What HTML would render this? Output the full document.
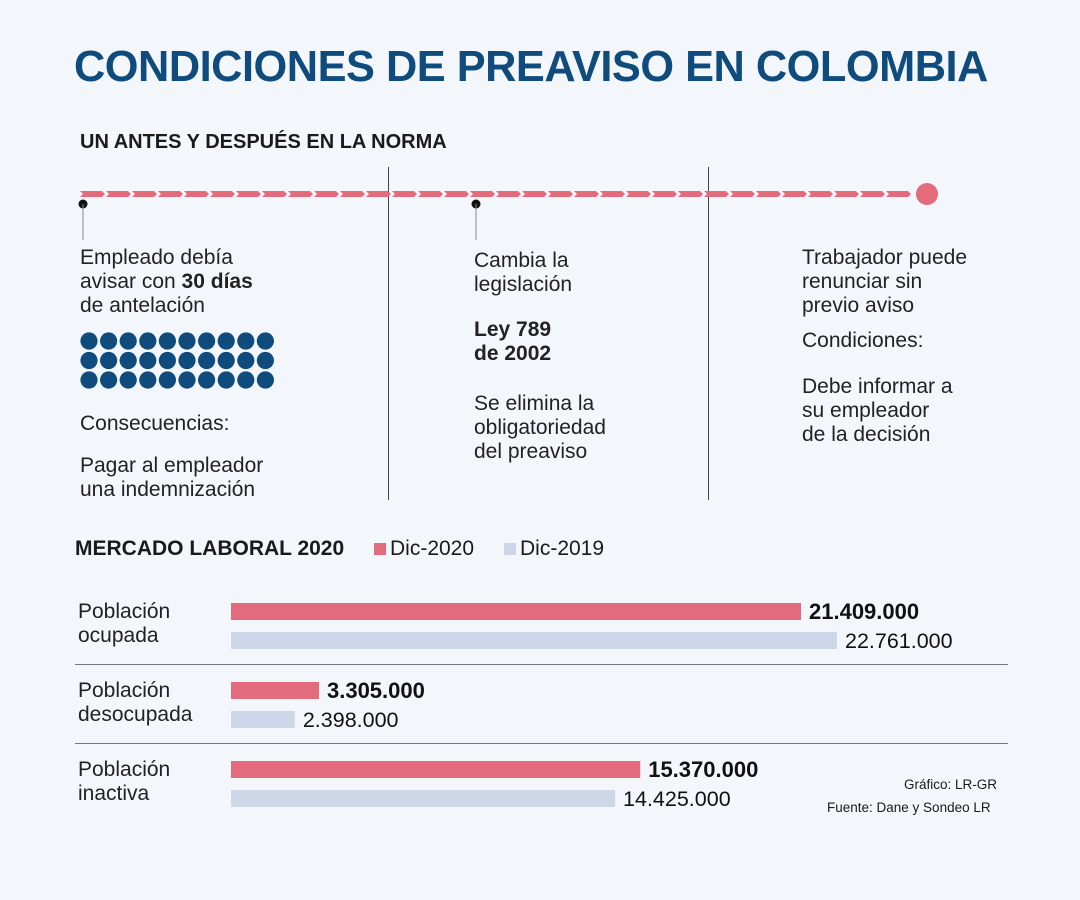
<!DOCTYPE html>
<html><head><meta charset="utf-8"><style>
html,body{margin:0;padding:0}
body{width:1080px;height:900px;background:#f3f6fb;position:relative;overflow:hidden;font-family:"Liberation Sans",sans-serif;color:#1a1a1a}
.t{position:absolute;white-space:nowrap}
.p{font-size:21px;line-height:24px;font-weight:300;color:#222}
b{font-weight:700}
</style></head><body>
<div class="t" style="left:74px;top:42px;font-size:44px;font-weight:700;color:#0f4c7d;letter-spacing:-0.5px;transform:scaleX(0.985);transform-origin:left">CONDICIONES DE PREAVISO EN COLOMBIA</div>
<div class="t" style="left:80px;top:131px;font-size:20px;font-weight:700">UN ANTES Y DESPUÉS EN LA NORMA</div>
<svg id="tl" width="1080" height="520" style="position:absolute;left:0;top:0">
<line x1="388.5" y1="167" x2="388.5" y2="500" stroke="#444" stroke-width="1"/>
<line x1="708.5" y1="167" x2="708.5" y2="500" stroke="#444" stroke-width="1"/>
<g id="chev"></g>
<circle cx="927" cy="194" r="11" fill="#e46b7b"/>
<circle cx="83" cy="204" r="4.5" fill="#111"/><line x1="83" y1="204" x2="83" y2="240" stroke="#888"/>
<circle cx="476" cy="204" r="4.5" fill="#111"/><line x1="476" y1="204" x2="476" y2="240" stroke="#888"/>
<g id="dots"></g>
</svg>
<div class="t p" style="left:80px;top:246px">Empleado debía<br>avisar con <b>30 días</b><br>de antelación</div>
<div class="t p" style="left:80px;top:412px;font-weight:400">Consecuencias:</div>
<div class="t p" style="left:80px;top:454px">Pagar al empleador<br>una indemnización</div>
<div class="t p" style="left:474px;top:249px">Cambia la<br>legislación</div>
<div class="t p" style="left:474px;top:318px;font-weight:700">Ley 789<br>de 2002</div>
<div class="t p" style="left:474px;top:392px">Se elimina la<br>obligatoriedad<br>del preaviso</div>
<div class="t p" style="left:802px;top:246px">Trabajador puede<br>renunciar sin<br>previo aviso</div>
<div class="t p" style="left:802px;top:329px;font-weight:400">Condiciones:</div>
<div class="t p" style="left:802px;top:375px">Debe informar a<br>su empleador<br>de la decisión</div>

<div class="t" style="left:75px;top:537px;font-size:21px;font-weight:700">MERCADO LABORAL 2020</div>
<div class="t" style="left:374px;top:537px;font-size:21px;font-weight:300"><span style="display:inline-block;width:12px;height:12px;background:#e46b7b;margin-right:4px"></span>Dic-2020</div>
<div class="t" style="left:504px;top:537px;font-size:21px;font-weight:300"><span style="display:inline-block;width:12px;height:12px;background:#cdd7e8;margin-right:4px"></span>Dic-2019</div>
<svg id="chart" width="1080" height="340" style="position:absolute;left:0;top:560px"></svg>
<div class="t" style="left:904px;top:777px;font-size:13.5px">Gráfico: LR-GR</div>
<div class="t" style="left:827px;top:800px;font-size:13.5px">Fuente: Dane y Sondeo LR</div>
<script>
const categories=["Población\nocupada","Población\ndesocupada","Población\ninactiva"];
const dic2020=[21409000,3305000,15370000];
const dic2019=[22761000,2398000,14425000];
const NS="http://www.w3.org/2000/svg";
function mk(t,a,p){const e=document.createElementNS(NS,t);for(const k in a)e.setAttribute(k,a[k]);p.appendChild(e);return e;}
const cg=document.getElementById('chev');
for(let x=80;x<905;x+=26){mk('polygon',{points:`${x},191 ${x+22},191 ${x+25},194 ${x+22},197 ${x},197 ${x+3},194`,fill:'#e46b7b'},cg);}
const dg=document.getElementById('dots');
for(let r=0;r<3;r++)for(let c=0;c<10;c++)mk('circle',{cx:89+c*19.6,cy:341+r*19.5,r:8.6,fill:'#0f4c7d'},dg);
const svg=document.getElementById('chart');
const x0=231,scale=570/21409000;
const xs=v=>v*scale;
const fmt=v=>v.toLocaleString('de-DE');
categories.forEach((c,i)=>{
 const y=43+i*79;
 const lab=mk('text',{x:78,y:y+15,'font-size':21,'font-weight':300,fill:'#222'},svg);
 
 
 c.split('\n').forEach((l,j)=>{const ts=mk('tspan',{x:78,dy:j?24:0},lab);ts.textContent=l;});
 const b1=mk('rect',{x:x0,y:y,width:xs(dic2020[i]),height:17,fill:'#e46b7b'},svg);
 
 
 const b2=mk('rect',{x:x0,y:y+29,width:xs(dic2019[i]),height:17,fill:'#cdd7e8'},svg);
 
 
 const t1=mk('text',{x:x0+xs(dic2020[i])+8,y:y+16,'font-size':22,'font-weight':700,fill:'#111'},svg);t1.textContent=fmt(dic2020[i]);
 
 
 const t2=mk('text',{x:x0+xs(dic2019[i])+8,y:y+45,'font-size':21.5,'font-weight':300,fill:'#111'},svg);t2.textContent=fmt(dic2019[i]);
 
 
 if(i<2){const s=mk('line',{x1:75,x2:1008,y1:y+61.5,y2:y+61.5,stroke:'#777'},svg);
 
 }
});
</script>
</body></html>
